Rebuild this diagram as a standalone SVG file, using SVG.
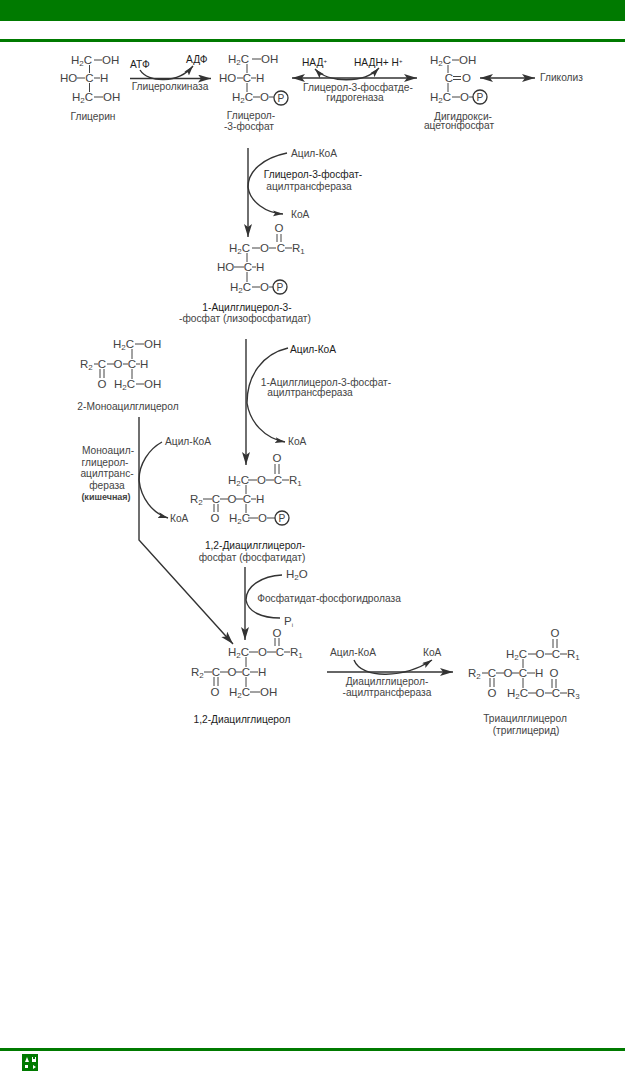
<svg xmlns="http://www.w3.org/2000/svg" width="625" height="1072" viewBox="0 0 625 1072">
<style>
text{font-family:"Liberation Sans",Arial,sans-serif;fill:#444}
.a{font-size:11.500px}
.l{font-size:10.200px}
.d{fill:#1c1c1c}
.m{text-anchor:middle}
.s{font-size:8px}
.u{font-size:6px}
.k{font-weight:bold;font-size:9px}
.b{stroke:#444;stroke-width:1;fill:none}
.c{stroke:#333;stroke-width:1.400;fill:none}
.h{marker-end:url(#ah)}
.j{marker-end:url(#as)}
.w{marker-start:url(#ah);marker-end:url(#ah)}
.v{marker-start:url(#as);marker-end:url(#as)}
.p{fill:#fff;stroke:#333;stroke-width:1.300}
.g{fill:#007a00}
</style>
<defs>
<marker id="ah" markerUnits="userSpaceOnUse" markerWidth="14" markerHeight="10" refX="13" refY="4" orient="auto-start-reverse"><path d="M0 0L13 4L0 8L3 4z" fill="#333"/></marker>
<marker id="as" markerUnits="userSpaceOnUse" markerWidth="12" markerHeight="8" refX="10" refY="3" orient="auto-start-reverse"><path d="M0 0L10 3L0 6L2 3z" fill="#333"/></marker>
</defs>
<rect width="625" height="1072" fill="#fff"/>
<g id="frame">
<rect class="g" x="0" y="0" width="625" height="21"/>
<rect class="g" x="0" y="39" width="625" height="3"/>
<rect class="g" x="0" y="1048" width="625" height="3"/>
</g>
<g id="logo">
<rect class="g" x="22" y="1054" width="16" height="17"/>
<path d="M25 1062l2-5 2 5zM32 1057h1v2h2v-2h1v5h-4zM25 1065h3v3h-3zM33 1065l3 2-3 2z" fill="#fff"/>
</g>

<g id="connectors">
<path class="c h" d="M130 78.500H211"/>
<path class="c j" d="M140 70C148 83 178 84 193 66"/>
<path class="c w" d="M292 78H417"/>
<path class="c v" d="M315 69C328 83 364 84 379 68"/>
<path class="c w" d="M480 78H535"/>
<path class="c h" d="M248 148V237"/>
<path class="c" d="M287 153C262 158 248 172 248 187"/>
<path class="c j" d="M248 187C250 202 266 213 283 214"/>
<path class="c h" d="M246 339V465"/>
<path class="c" d="M288 348C262 354 247 376 247 403"/>
<path class="c j" d="M247 403C250 422 264 438 285 442"/>
<path class="c h" d="M245 567V640"/>
<path class="c" d="M282 575C262 576 246 586 246 600"/>
<path class="c" d="M246 600C248 612 262 618 280 618"/>
<path class="c h" d="M139 417V540L233 644"/>
<path class="c" d="M162 442C149 449 139 464 139 480"/>
<path class="c j" d="M139 480C141 498 152 513 168 518"/>
<path class="c h" d="M327 672H453"/>
<path class="c j" d="M354 660C362 680 405 678 432 660"/>
</g>

<g id="glycerol">
<path class="b" d="M94 60H102M89.500 65V73M77 78H85M94 78H100M89.500 83V92M94 97H103"/>
<text class="a" x="71" y="64">H<tspan class="s" dy="2">2</tspan><tspan dy="-2">C</tspan></text>
<text class="a" x="102" y="64">OH</text>
<text class="a" x="60" y="82">HO</text>
<text class="a m" x="89.500" y="82">C</text>
<text class="a" x="100" y="82">H</text>
<text class="a" x="72" y="101">H<tspan class="s" dy="2">2</tspan><tspan dy="-2">C</tspan></text>
<text class="a" x="103" y="101">OH</text>
<text class="l m" x="93" y="119.500">Глицерин</text>
</g>

<g id="glycerol-3-phosphate">
<path class="b" d="M252 59H261M247 64V73M237 78H243M251 78H256M247 83V92M253 97H260M269 97H274"/>
<text class="a" x="228" y="63">H<tspan class="s" dy="2">2</tspan><tspan dy="-2">C</tspan></text>
<text class="a" x="261" y="63">OH</text>
<text class="a" x="219" y="82">HO</text>
<text class="a m" x="247" y="82">C</text>
<text class="a" x="256" y="82">H</text>
<text class="a" x="232" y="101">H<tspan class="s" dy="2">2</tspan><tspan dy="-2">C</tspan></text>
<text class="a" x="260" y="101">O</text>
<circle class="p" cx="281" cy="98" r="7"/><text class="l m" x="281" y="101.500">P</text>
<text class="l m" x="251" y="118.500">Глицерол-</text>
<text class="l m" x="249" y="129.500">-3-фосфат</text>
</g>

<g id="dhap">
<path class="b" d="M452 60H459M448 65V73M453 76.500H461M453 79.500H461M448 83V92M452 97H460M469 97H473"/>
<text class="a" x="430" y="64">H<tspan class="s" dy="2">2</tspan><tspan dy="-2">C</tspan></text>
<text class="a" x="459" y="64">OH</text>
<text class="a m" x="449" y="82">C</text>
<text class="a" x="462" y="82">O</text>
<text class="a" x="430" y="101">H<tspan class="s" dy="2">2</tspan><tspan dy="-2">C</tspan></text>
<text class="a" x="460" y="101">O</text>
<circle class="p" cx="480" cy="97" r="7"/><text class="l m" x="480" y="100.500">P</text>
<text class="l m" x="463" y="119.500">Дигидрокси-</text>
<text class="l m" x="459" y="129">ацетонфосфат</text>
</g>

<g id="labels-top">
<text class="l d" x="130" y="68">АТФ</text>
<text class="l d" x="186" y="63">АДФ</text>
<text class="l m" x="170" y="90">Глицеролкиназа</text>
<text class="l d" x="302" y="66">НАД<tspan class="u" dy="-3">+</tspan></text>
<text class="l d" x="354" y="66">НАДН+ Н<tspan class="u" dy="-3">+</tspan></text>
<text class="l m" x="358" y="90.500">Глицерол-3-фосфатде-</text>
<text class="l m" x="355" y="100.500">гидрогеназа</text>
<text class="l" x="540" y="80.500">Гликолиз</text>
</g>

<g id="labels-step2">
<text class="l" x="291" y="156.500">Ацил-КоА</text>
<text class="l m d" x="313" y="177.500">Глицерол-3-фосфат-</text>
<text class="l m" x="309" y="189.500">ацилтрансфераза</text>
<text class="l" x="291" y="217.500">КоА</text>
</g>

<g id="lysophosphatidate">
<path class="b" d="M252 248H260M269 248H276M285 248H292M277 234V242M281 234V242M247 253V262M234 267H244M252 267H256M247 272V282M252 287H260M269 287H273"/>
<text class="a m" x="279" y="232">O</text>
<text class="a" x="229" y="252">H<tspan class="s" dy="2">2</tspan><tspan dy="-2">C</tspan></text>
<text class="a" x="260" y="252">O</text>
<text class="a m" x="281" y="252">C</text>
<text class="a" x="292" y="252">R<tspan class="s" dy="2">1</tspan></text>
<text class="a" x="217" y="271">HO</text>
<text class="a m" x="248" y="271">C</text>
<text class="a" x="256" y="271">H</text>
<text class="a" x="230" y="291">H<tspan class="s" dy="2">2</tspan><tspan dy="-2">C</tspan></text>
<text class="a" x="260" y="291">O</text>
<circle class="p" cx="280" cy="287" r="7"/><text class="l m" x="280" y="290.500">P</text>
<text class="l m d" x="247" y="310.500">1-Ацилглицерол-3-</text>
<text class="l m" x="245" y="321.500">-фосфат (лизофосфатидат)</text>
</g>

<g id="monoacylglycerol">
<path class="b" d="M135 344H144M132 349V359M94 364H98M107 364H114M123 364H128M136 364H140M100 369V378M104 369V378M132 369V379M136 384H144"/>
<text class="a" x="113" y="348">H<tspan class="s" dy="2">2</tspan><tspan dy="-2">C</tspan></text>
<text class="a" x="144" y="348">OH</text>
<text class="a" x="80" y="368">R<tspan class="s" dy="2">2</tspan></text>
<text class="a m" x="102" y="368">C</text>
<text class="a m" x="118" y="368">O</text>
<text class="a m" x="132" y="368">C</text>
<text class="a" x="140" y="368">H</text>
<text class="a m" x="102" y="388">O</text>
<text class="a" x="114" y="388">H<tspan class="s" dy="2">2</tspan><tspan dy="-2">C</tspan></text>
<text class="a" x="144" y="388">OH</text>
<text class="l m" x="128" y="409.500">2-Моноацилглицерол</text>
</g>

<g id="labels-step3">
<text class="l d" x="290" y="352.500">Ацил-КоА</text>
<text class="l m" x="326" y="385.500">1-Ацилглицерол-3-фосфат-</text>
<text class="l m" x="310" y="395.500">ацилтрансфераза</text>
<text class="l" x="288" y="444.500">КоА</text>
<text class="l" x="165" y="444.500">Ацил-КоА</text>
<text class="l" x="170" y="521.500">КоА</text>
<text class="l m" x="108" y="453.500">Моноацил-</text>
<text class="l m" x="105" y="465.500">глицерол-</text>
<text class="l m" x="107" y="476.500">ацилтранс-</text>
<text class="l m" x="107" y="488.500">фераза</text>
<text class="l m k" x="106" y="499.500">(кишечная)</text>
</g>

<g id="phosphatidate">
<path class="b" d="M248 480H257M266 480H274M282 480H289M275 464V474M279 464V474M246 485V494M203 499H212M220 499H228M236 499H243M251 499H256M214 504V512M218 504V512M246 504V513M248 518H258M267 518H275"/>
<text class="a m" x="277" y="462">O</text>
<text class="a" x="228" y="484">H<tspan class="s" dy="2">2</tspan><tspan dy="-2">C</tspan></text>
<text class="a" x="257" y="484">O</text>
<text class="a m" x="278" y="484">C</text>
<text class="a" x="289" y="484">R<tspan class="s" dy="2">1</tspan></text>
<text class="a" x="190" y="503">R<tspan class="s" dy="2">2</tspan></text>
<text class="a m" x="216" y="503">C</text>
<text class="a m" x="232" y="503">O</text>
<text class="a m" x="247" y="503">C</text>
<text class="a" x="256" y="503">H</text>
<text class="a m" x="215" y="522">O</text>
<text class="a" x="229" y="522">H<tspan class="s" dy="2">2</tspan><tspan dy="-2">C</tspan></text>
<text class="a" x="258" y="522">O</text>
<circle class="p" cx="282" cy="518" r="7"/><text class="l m" x="282" y="521.500">P</text>
<text class="l m d" x="255" y="548.500">1,2-Диацилглицерол-</text>
<text class="l m" x="252" y="560.500">фосфат (фосфатидат)</text>
</g>

<g id="labels-step4">
<text class="a" x="286" y="578">H<tspan class="s" dy="2">2</tspan><tspan dy="-2">O</tspan></text>
<text class="l m" x="329" y="601.500">Фосфатидат-фосфогидролаза</text>
<text class="a" x="284" y="625">P<tspan class="u" dy="2">i</tspan></text>
</g>

<g id="diacylglycerol">
<path class="b" d="M249 652H258M267 652H276M284 652H290M275 638V646M279 638V646M246 657V667M204 672H212M220 672H228M236 672H242M250 672H258M246 677V687M214 677V686M218 677V686M250 692H260"/>
<text class="a m" x="277" y="637">O</text>
<text class="a" x="228" y="656">H<tspan class="s" dy="2">2</tspan><tspan dy="-2">C</tspan></text>
<text class="a" x="258" y="656">O</text>
<text class="a m" x="280" y="656">C</text>
<text class="a" x="290" y="656">R<tspan class="s" dy="2">1</tspan></text>
<text class="a" x="191" y="676">R<tspan class="s" dy="2">2</tspan></text>
<text class="a m" x="216" y="676">C</text>
<text class="a m" x="232" y="676">O</text>
<text class="a m" x="246" y="676">C</text>
<text class="a" x="258" y="676">H</text>
<text class="a m" x="215" y="696">O</text>
<text class="a" x="229" y="696">H<tspan class="s" dy="2">2</tspan><tspan dy="-2">C</tspan></text>
<text class="a" x="260" y="696">OH</text>
<text class="l m d" x="242" y="722.500">1,2-Диацилглицерол</text>
</g>

<g id="labels-step5">
<text class="l" x="330" y="655.500">Ацил-КоА</text>
<text class="l" x="423" y="655.500">КоА</text>
<text class="l m" x="387" y="684.500">Диацилглицерол-</text>
<text class="l m" x="387" y="695.500">-ацилтрансфераза</text>
</g>

<g id="triacylglycerol">
<path class="b" d="M528 654H536M545 654H552M560 654H567M553 639V648M557 639V648M523 659V668M482 673H488M496 673H504M512 673H519M527 673H535M490 678V687M494 678V687M523 678V688M528 693H536M545 693H552M560 693H567M552 679V688M556 679V688"/>
<text class="a m" x="555" y="637">O</text>
<text class="a" x="506" y="658">H<tspan class="s" dy="2">2</tspan><tspan dy="-2">C</tspan></text>
<text class="a m" x="540" y="658">O</text>
<text class="a m" x="556" y="658">C</text>
<text class="a" x="567" y="658">R<tspan class="s" dy="2">1</tspan></text>
<text class="a" x="468" y="677">R<tspan class="s" dy="2">2</tspan></text>
<text class="a m" x="492" y="677">C</text>
<text class="a m" x="508" y="677">O</text>
<text class="a m" x="523" y="677">C</text>
<text class="a" x="535" y="677">H</text>
<text class="a m" x="554" y="677">O</text>
<text class="a m" x="492" y="697">O</text>
<text class="a" x="507" y="697">H<tspan class="s" dy="2">2</tspan><tspan dy="-2">C</tspan></text>
<text class="a m" x="540" y="697">O</text>
<text class="a m" x="556" y="697">C</text>
<text class="a" x="567" y="697">R<tspan class="s" dy="2">3</tspan></text>
<text class="l m" x="525" y="721.500">Триацилглицерол</text>
<text class="l m" x="526" y="733.500">(триглицерид)</text>
</g>
</svg>
